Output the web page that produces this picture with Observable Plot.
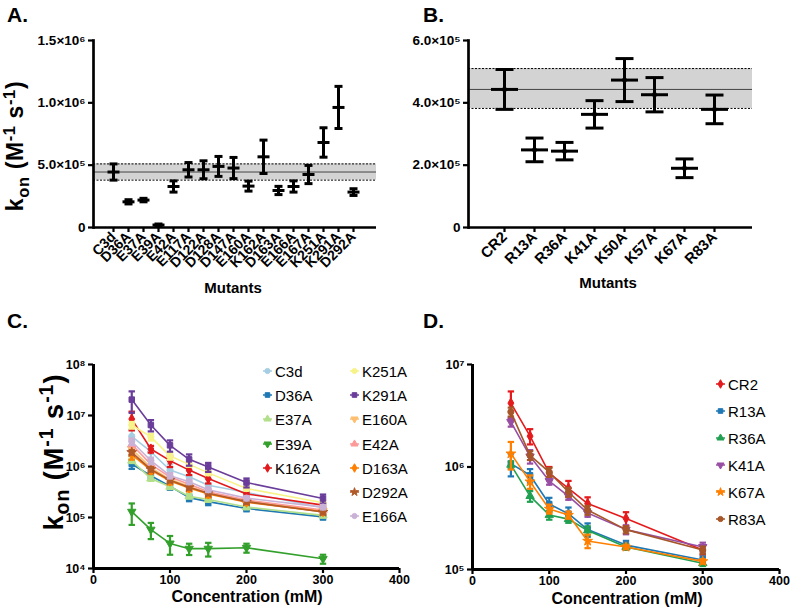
<!DOCTYPE html>
<html><head><meta charset="utf-8">
<script src="https://cdn.jsdelivr.net/npm/d3@7"></script>
<script src="https://cdn.jsdelivr.net/npm/@observablehq/plot@0.6"></script>
<style>
body{margin:0;background:#fff;font-family:"Liberation Sans",Arial,sans-serif;color:#000;}
#root{position:relative;width:794px;height:609px;overflow:hidden;background:#fff;}
.plbl{position:absolute;font-weight:bold;font-size:21px;line-height:1;}
.ylab{position:absolute;font-weight:bold;white-space:nowrap;line-height:1;transform:translate(-50%,-50%) rotate(-90deg);}
.ylab sub,.ylab sup{font-size:72%;}
.xlab{position:absolute;font-weight:bold;white-space:nowrap;line-height:1;transform:translate(-50%,-50%);}
.leg{position:absolute;font-size:15px;line-height:1;}
.li{position:absolute;white-space:nowrap;display:flex;align-items:center;transform:translateY(-50%);}
.li svg{margin-right:3px;overflow:visible;}
</style>
</head><body><div id="root"></div>
<script>
// ---------- Data ----------
const mutantsA = ["C3d","D36A","E37A","E39A","E42A","E117A","D122A","D128A","D147A","E160A","K162A","D163A","E166A","E167A","K251A","K291A","D292A"];
const konA = [4.45e5,2.06e5,2.2e5,0.2e5,3.29e5,4.63e5,4.63e5,4.9e5,4.77e5,3.32e5,5.67e5,2.97e5,3.29e5,4.25e5,6.82e5,9.63e5,2.84e5];
const errA = [0.65e5,0.17e5,0.14e5,0.08e5,0.45e5,0.58e5,0.72e5,0.8e5,0.85e5,0.4e5,1.34e5,0.33e5,0.45e5,0.73e5,1.18e5,1.69e5,0.27e5];
const refA = [3.8e5,4.45e5,5.1e5];
const ticksA = [0,5e5,1e6,1.5e6];

const mutantsB = ["CR2","R13A","R36A","K41A","K50A","K57A","K67A","R83A"];
const konB = [4.43e5,2.49e5,2.45e5,3.63e5,4.73e5,4.26e5,1.9e5,3.79e5];
const errB = [0.64e5,0.38e5,0.28e5,0.44e5,0.69e5,0.55e5,0.3e5,0.46e5];
const refB = [3.82e5,4.43e5,5.1e5];
const ticksB = [0,2e5,4e5,6e5];

const conc = [50,75,100,125,150,200,300];
const concTicks = [0,100,200,300,400];

const seriesC = ["C3d","D36A","E37A","E39A","K162A","K251A","K291A","E160A","E42A","D163A","D292A","E166A"];
const colorsC = ["#a6cee3","#1f78b4","#b2df8a","#33a02c","#e31a1c","#f7f38a","#6a3d9a","#fdbf6f","#fb9a99","#ff7f00","#b15928","#cab2d6"];
const symbolsC = ["circle","square","triangle","triDown","diamond","circle","square","triDown","triangle","diamond","star","circle"];
const konC = [
  [3.9e6,1.95e6,8.5e5,6.3e5,4.3e5,3.1e5,1.55e5],
  [1.12e6,6.6e5,4.1e5,2.45e5,2.05e5,1.5e5,1.03e5],
  [1.3e6,5.8e5,4.0e5,2.6e5,2.25e5,1.6e5,1.1e5],
  [1.3e5,5.8e4,3.1e4,2.45e4,2.45e4,2.55e4,1.55e4],
  [8.5e6,2.2e6,1.3e6,8.5e5,5.8e5,2.9e5,1.75e5],
  [6.5e6,3.8e6,1.6e6,1.1e6,7.5e5,3.7e5,1.95e5],
  [2.05e7,6.5e6,2.6e6,1.38e6,9.8e5,4.85e5,2.35e5],
  [2.2e6,9.5e5,5.6e5,4.1e5,3.0e5,2.1e5,1.35e5],
  [2.7e6,1.1e6,6.2e5,4.5e5,3.2e5,2.2e5,1.4e5],
  [1.7e6,8.5e5,5.2e5,3.8e5,2.9e5,2.0e5,1.3e5],
  [1.9e6,8.8e5,5.4e5,3.9e5,3.0e5,2.05e5,1.28e5],
  [3.1e6,1.3e6,6.6e5,5.0e5,3.5e5,2.4e5,1.6e5]
];
const relErrC = [
  [0.35,0.3,0.3,0.3,0.3,0.15,0.2],
  [0.2,0.15,0.15,0.15,0.15,0.12,0.12],
  [0.1,0.1,0.1,0.1,0.1,0.1,0.1],
  [0.45,0.35,0.4,0.25,0.3,0.2,0.2],
  [0.4,0.15,0.25,0.2,0.2,0.1,0.1],
  [0.15,0.15,0.15,0.1,0.1,0.1,0.1],
  [0.45,0.25,0.25,0.25,0.2,0.2,0.2],
  [0.15,0.15,0.12,0.1,0.1,0.1,0.1],
  [0.25,0.25,0.2,0.2,0.15,0.15,0.15],
  [0.2,0.15,0.15,0.15,0.15,0.1,0.1],
  [0.1,0.1,0.1,0.1,0.1,0.1,0.1],
  [0.15,0.15,0.12,0.1,0.1,0.1,0.1]
];
const ticksC = [1e4,1e5,1e6,1e7,1e8];

const seriesD = ["CR2","R13A","R36A","K41A","K67A","R83A"];
const colorsD = ["#e41a1c","#1f78b4","#22a052","#984ea3","#ff7f00","#a65628"];
const symbolsD = ["diamond","square","triangle","triDown","star","circle"];
const konD = [
  [4.2e6,2.0e6,8.7e5,6.2e5,4.4e5,3.15e5,1.55e5],
  [1.08e6,8.3e5,4.35e5,3.5e5,2.45e5,1.73e5,1.24e5],
  [1.05e6,5.2e5,3.4e5,3.1e5,2.4e5,1.66e5,1.15e5],
  [2.75e6,1.27e6,7.3e5,5.2e5,3.55e5,2.45e5,1.66e5],
  [1.35e6,7.2e5,3.9e5,3.4e5,1.9e5,1.66e5,1.2e5],
  [3.45e6,1.3e6,8.9e5,5.7e5,3.8e5,2.45e5,1.55e5]
];
const relErrD = [
  [0.3,0.17,0.15,0.18,0.15,0.15,0.1],
  [0.25,0.15,0.15,0.15,0.15,0.1,0.08],
  [0.08,0.12,0.1,0.08,0.1,0.06,0.06],
  [0.1,0.15,0.08,0.08,0.08,0.1,0.1],
  [0.3,0.15,0.1,0.08,0.15,0.05,0.05],
  [0.1,0.1,0.1,0.1,0.1,0.08,0.08]
];
const ticksD = [1e5,1e6,1e7];

// ---------- helpers ----------
const FONT = '"Liberation Sans", Arial, sans-serif';
const SUP = "⁰¹²³⁴⁵⁶⁷⁸⁹";
const sup = n => String(n).split("").map(c => SUP[+c]).join("");
const sci = v => { if (v === 0) return "0"; const e = Math.floor(Math.log10(v) + 1e-9); return (v / 10 ** e).toFixed(1) + "×10" + sup(e); };
const pow10 = v => "10" + sup(Math.round(Math.log10(v)));
const capSym = {draw(ctx, size) { const r = Math.sqrt(size / Math.PI); ctx.moveTo(-r, 0); ctx.lineTo(r, 0); }};
const triDown = {draw(ctx, size) { const y = -Math.sqrt(size / (Math.sqrt(3) * 3)); ctx.moveTo(0, -y * 2); ctx.lineTo(-Math.sqrt(3) * y, y); ctx.lineTo(Math.sqrt(3) * y, y); ctx.closePath(); }};
const symObj = s => s === "triDown" ? triDown : s;
const d3sym = {circle: d3.symbolCircle, square: d3.symbolSquare, triangle: d3.symbolTriangle, diamond: d3.symbolDiamond, star: d3.symbolStar, triDown: triDown};

const root = document.getElementById("root");
function place(el, left, top) { el.style.position = "absolute"; el.style.left = left + "px"; el.style.top = top + "px"; root.appendChild(el); }
function div(cls, html, left, top, extra) { const d = document.createElement("div"); d.className = cls; d.innerHTML = html; if (extra) Object.assign(d.style, extra); place(d, left, top); return d; }

// ---------- Panel A / B (scatter with SD) ----------
function dotPanel(cats, vals, errs, ref, ticks, opts) {
  const data = cats.map((m, i) => ({m, v: vals[i], e: errs[i]}));
  return Plot.plot({
    width: opts.width, height: 300,
    marginLeft: opts.ml, marginTop: 40, marginBottom: 73, marginRight: opts.mr,
    style: {fontFamily: FONT, fontSize: "12px", fontWeight: "bold", color: "#000", background: "transparent", overflow: "visible"},
    x: {type: "point", domain: cats, range: opts.xr},
    y: {domain: [0, ticks[ticks.length - 1]]},
    marks: [
      Plot.rectY([ref], {y1: d => d[0], y2: d => d[2], fill: "#d3d3d3"}),
      Plot.ruleY([ref[0], ref[2]], {stroke: "#000", strokeWidth: 1, strokeDasharray: "2,1.5"}),
      Plot.ruleY([ref[1]], {stroke: "#444", strokeWidth: 1}),
      Plot.ruleX(data, {x: "m", y1: d => d.v - d.e, y2: d => d.v + d.e, stroke: "#000", strokeWidth: 3}),
      Plot.dot(data, {x: "m", y: d => d.v - d.e, symbol: capSym, r: opts.cap, stroke: "#000", fill: "none", strokeWidth: 3}),
      Plot.dot(data, {x: "m", y: d => d.v + d.e, symbol: capSym, r: opts.cap, stroke: "#000", fill: "none", strokeWidth: 3}),
      Plot.dot(data, {x: "m", y: "v", symbol: capSym, r: opts.mid, stroke: "#000", fill: "none", strokeWidth: 3}),
      opts.centerDot ? Plot.dot(data, {x: "m", y: "v", symbol: "diamond", r: 3, fill: "#000", stroke: "none"}) : null,
      Plot.ruleY([0], {stroke: "#000", strokeWidth: 2.7}),
      Plot.frame({anchor: "left", stroke: "#000", strokeWidth: 2.7}),
      Plot.axisY({ticks, tickFormat: sci, tickSize: 5, tickPadding: 3, strokeWidth: 2.2, label: null, fontSize: 13.5}),
      Plot.axisX({tickRotate: -45, tickSize: 5, tickPadding: 2, strokeWidth: 2.2, label: null, fontSize: opts.xfs})
    ]
  });
}

const pA = dotPanel(mutantsA, konA, errA, refA, ticksA, {width: 400, ml: 93, mr: 24, xr: [100, 365], cap: 4, mid: 6, xfs: 14});
place(pA, 0, 0);
const pB = dotPanel(mutantsB, konB, errB, refB, ticksB, {width: 394, ml: 68, mr: 42, xr: [86, 332], cap: 9, mid: 13.5, centerDot: true, xfs: 15});
place(pB, 400, 0);

// ---------- Panel C / D (log lines) ----------
function linePanel(series, colors, symbols, kon, rel, yTicks, opts) {
  const marks = [];
  series.forEach((s, i) => {
    const rows = conc.map((c, j) => ({x: c, y: kon[i][j], e: rel[i][j]}));
    const col = colors[i];
    marks.push(
      Plot.line(rows, {x: "x", y: "y", stroke: col, strokeWidth: 1.6}),
      Plot.ruleX(rows, {x: "x", y1: d => d.y * (1 - d.e), y2: d => d.y * (1 + d.e), stroke: col, strokeWidth: 2.2}),
      Plot.dot(rows, {x: "x", y: d => d.y * (1 - d.e), symbol: capSym, r: 3.2, stroke: col, fill: "none", strokeWidth: 2.2}),
      Plot.dot(rows, {x: "x", y: d => d.y * (1 + d.e), symbol: capSym, r: 3.2, stroke: col, fill: "none", strokeWidth: 2.2}),
      Plot.dot(rows, {x: "x", y: "y", symbol: symObj(symbols[i]), r: 3.1, fill: col, stroke: col, strokeWidth: 1})
    );
  });
  return Plot.plot({
    width: opts.width, height: 309,
    marginLeft: opts.ml, marginTop: 64, marginBottom: opts.mb, marginRight: opts.mr,
    style: {fontFamily: FONT, fontSize: "12.5px", fontWeight: "bold", color: "#000", background: "transparent", overflow: "visible"},
    x: {domain: [0, 400]},
    y: {type: "log", domain: [yTicks[0], yTicks[yTicks.length - 1]]},
    marks: [
      ...marks,
      Plot.ruleY([yTicks[0]], {stroke: "#000", strokeWidth: 3}),
      Plot.ruleX([0], {stroke: "#000", strokeWidth: 3}),
      Plot.axisX({ticks: concTicks, tickFormat: d => String(d), tickSize: 5, tickPadding: 2, strokeWidth: 2.2, label: null, fontSize: 12.5}),
      Plot.axisY({ticks: yTicks, tickFormat: pow10, tickSize: 5, tickPadding: 3, strokeWidth: 2.2, label: null, fontSize: 12.5})
    ]
  });
}

const pC = linePanel(seriesC, colorsC, symbolsC, konC, relErrC, ticksC, {width: 420, ml: 93, mr: 21, mb: 41});
place(pC, 0, 300);
const pD = linePanel(seriesD, colorsD, symbolsD, konD, relErrD, ticksD, {width: 394, ml: 72, mr: 15, mb: 40});
place(pD, 400, 300);

// ---------- Legends ----------
function legendItem(name, color, sym, x, y) {
  const path = d3.symbol(d3sym[sym], 2.6 * 2.6 * Math.PI)();
  const html = `<svg width="9" height="9" viewBox="-4.5 -4.5 9 9"><line x1="-4.5" x2="4.5" y1="0" y2="0" stroke="${color}" stroke-width="1.5"/><path d="${path}" fill="${color}" stroke="${color}"/></svg>${name}`;
  return div("li leg", html, x, y);
}
seriesC.forEach((s, i) => {
  const col = i < 5 ? 0 : 1, row = i < 5 ? i : i - 5;
  legendItem(s, colorsC[i], symbolsC[i], col === 0 ? 263 : 350, 371 + row * 24.2);
});
seriesD.forEach((s, i) => legendItem(s, colorsD[i], symbolsD[i], 716, 384 + i * 26.9));

// ---------- Text ----------
div("plbl", "A.", 7, 4);
div("plbl", "B.", 423, 4);
div("plbl", "C.", 7, 310);
div("plbl", "D.", 423, 310);
div("ylab", "k<sub>on</sub> (M<sup>-1</sup> s<sup>-1</sup>)", 17, 146, {fontSize: "23px", letterSpacing: "0.6px"});
div("ylab", "k<sub>on</sub> (M<sup>-1</sup> s<sup>-1</sup>)", 55, 452, {fontSize: "27px", letterSpacing: "1px"});
div("xlab", "Mutants", 233, 287, {fontSize: "15px"});
div("xlab", "Mutants", 608, 282, {fontSize: "15px"});
div("xlab", "Concentration (mM)", 247, 597, {fontSize: "16px"});
div("xlab", "Concentration (mM)", 627, 599, {fontSize: "16px"});
</script>
</body></html>
